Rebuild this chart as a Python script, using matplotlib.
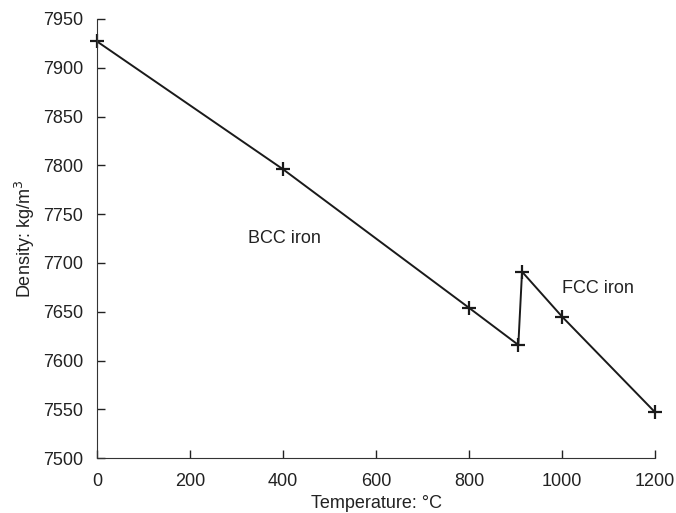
import matplotlib.pyplot as plt

plt.rcParams['font.family'] = ['Liberation Sans', 'DejaVu Sans']

temperature = [0, 400, 800, 906, 914, 1000, 1200]
density = [7927, 7796, 7654, 7616, 7691, 7645, 7547]

fig = plt.figure(figsize=(6.76, 5.13), dpi=100)
ax = fig.add_axes([0.1435, 0.107, 0.8255, 0.856])

ax.plot(temperature, density, color='#1a1a1a', lw=1.4, marker='+',
        markersize=10, markeredgewidth=1.6, clip_on=False)

ax.set_xlim(0, 1200)
ax.set_ylim(7500, 7950)
ax.set_xticks(range(0, 1201, 200))
ax.set_yticks(range(7500, 7951, 50))
ax.tick_params(direction='in', length=6, width=1, labelsize=13, colors='#222222')
ax.tick_params(axis='x', pad=11)
ax.tick_params(axis='y', pad=10)
for side in ['top', 'right']:
    ax.spines[side].set_visible(False)
for side in ['left', 'bottom']:
    ax.spines[side].set_color('#333333')

ax.text(325, 7725, 'BCC iron', fontsize=13, va='center', color='#222222')
ax.text(1000, 7674, 'FCC iron', fontsize=13, va='center', color='#222222')

ax.set_xlabel('Temperature: °C', fontsize=13, color='#222222', labelpad=3)
ax.set_ylabel('Density: kg/m$^3$', fontsize=13, color='#222222', labelpad=4)

fig.savefig('out.png', dpi=100)
